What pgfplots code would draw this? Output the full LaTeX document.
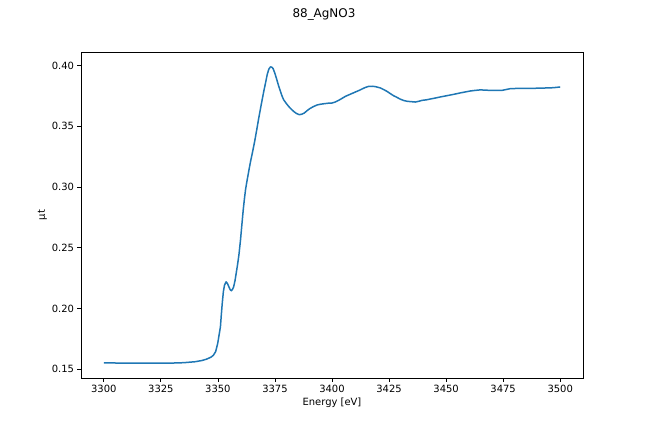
\documentclass[border=0pt]{standalone}
\usepackage{fontspec}
\setmainfont{DejaVu Sans}
\usepackage{pgfplots}
\pgfplotsset{compat=1.18}
\definecolor{mplblue}{HTML}{1F77B4}

\pgfplotstableread{
E mu
3300 0.1552
3310 0.1551
3320 0.1550
3330 0.1551
3335 0.1554
3340 0.1562
3343 0.1572
3345 0.1583
3347 0.1600
3348 0.1615
3349 0.1645
3349.9 0.1712
3350.5 0.1780
3351.1 0.1849
3351.5 0.1950
3351.9 0.2042
3352.4 0.2140
3352.9 0.2193
3353.6 0.2220
3354.2 0.2205
3354.8 0.2179
3355.4 0.2155
3355.9 0.2146
3356.4 0.2158
3356.9 0.2179
3357.5 0.2230
3358.0 0.2289
3358.6 0.2360
3359.2 0.2440
3359.9 0.2564
3360.5 0.2690
3361.1 0.2812
3361.6 0.2900
3362.1 0.2977
3362.6 0.3035
3363.1 0.3087
3363.7 0.3150
3364.3 0.3210
3365.2 0.3290
3366.1 0.3375
3367.0 0.3470
3367.9 0.3568
3369.0 0.3680
3370.1 0.3788
3370.9 0.3860
3371.6 0.3926
3372.3 0.3970
3373.0 0.3989
3373.6 0.3988
3374.2 0.3975
3374.9 0.3940
3375.6 0.3898
3376.5 0.3840
3377.4 0.3788
3378.1 0.3750
3378.8 0.3719
3379.9 0.3690
3381.0 0.3664
3382.1 0.3642
3383.2 0.3623
3384.4 0.3606
3385.7 0.3596
3386.8 0.3600
3387.9 0.3610
3389.0 0.3628
3390.2 0.3645
3391.8 0.3662
3393.5 0.3676
3395.0 0.3682
3396.4 0.3686
3398.2 0.3690
3400.0 0.3692
3401.4 0.3700
3402.9 0.3714
3404.4 0.3730
3405.9 0.3747
3408.1 0.3765
3410.3 0.3783
3411.8 0.3795
3413.2 0.3808
3414.6 0.3820
3416.1 0.3829
3417.6 0.3830
3419.0 0.3827
3421.2 0.3816
3422.6 0.3803
3424.1 0.3788
3425.5 0.3770
3427.0 0.3752
3428.5 0.3738
3430.0 0.3723
3431.5 0.3712
3433.0 0.3706
3434.8 0.3703
3436.5 0.3700
3438.0 0.3706
3439.5 0.3714
3441.3 0.3718
3443.1 0.3725
3445.3 0.3733
3447.5 0.3742
3449.7 0.3750
3451.9 0.3758
3454.0 0.3766
3456.2 0.3775
3458.4 0.3783
3460.6 0.3791
3462.8 0.3796
3465.0 0.3800
3467.2 0.3798
3469.4 0.3796
3472.0 0.3796
3474.5 0.3796
3476.3 0.3803
3478.1 0.3810
3482.5 0.3813
3488.3 0.3813
3494.2 0.3816
3497.0 0.3818
3500.0 0.3824
}\spectrum

\begin{document}
\begin{tikzpicture}
% full figure 648x432 px, axes at (81,52)-(583,378)
\path (-81bp,-54bp) rectangle (567bp,378bp);
\node[font=\fontsize{12}{14}\selectfont] at (243bp,364bp) {88\_AgNO3};
\begin{axis}[
  at={(0,0)}, anchor=south west,
  scale only axis, width=502bp, height=326bp,
  xmin=3290, xmax=3510, ymin=0.1428, ymax=0.4112,
  xtick={3300,3325,...,3500},
  ytick={0.15,0.20,0.25,0.30,0.35,0.40},
  xtick pos=left, ytick pos=left,
  tick align=outside, major tick length=3.5bp,
  axis line style={line width=0.8bp},
  tick style={line width=0.8bp, black},
  ticklabel style={font=\fontsize{10}{12}\selectfont},
  label style={font=\fontsize{10}{12}\selectfont},
  /pgf/number format/assume math mode=true,
  x tick label style={/pgf/number format/.cd, set thousands separator={}},
  y tick label style={/pgf/number format/.cd, fixed, fixed zerofill, precision=2},
  xlabel={Energy [eV]}, ylabel={μt},
  xlabel style={at={(axis description cs:0.5,-0.077)}, anchor=center},
  ylabel style={at={(axis description cs:-0.077,0.5)}, anchor=center},
]
\addplot[mplblue, line width=1.5bp, line join=round] table[x=E, y=mu] {\spectrum};
\end{axis}
\end{tikzpicture}
\end{document}
